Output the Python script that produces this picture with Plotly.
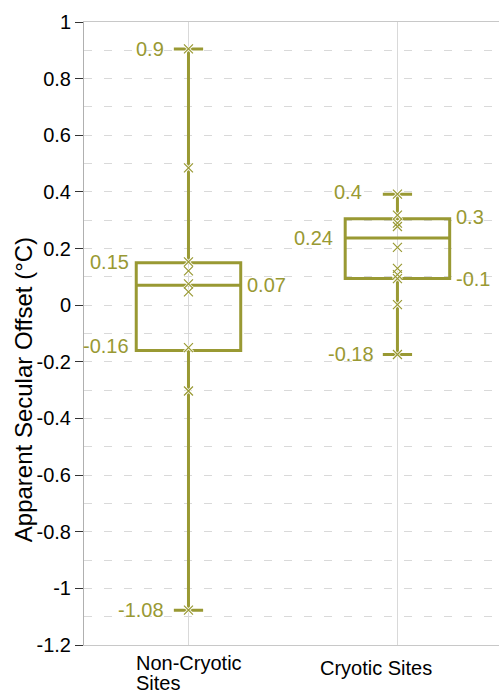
import plotly.graph_objects as go

categories = ["Non-Cryotic Sites", "Cryotic Sites"]
category_lines = [["Non-Cryotic", "Sites"], ["Cryotic Sites"]]
y_title = "Apparent Secular Offset (°C)"

# box statistics
q1 = [-0.16, 0.094]
median = [0.07, 0.237]
q3 = [0.15, 0.305]
lowerfence = [-1.077, -0.174]
upperfence = [0.905, 0.392]

# individual sample markers
noncryo_points = [0.905, 0.485, 0.153, 0.121, 0.075, 0.047, -0.15, -0.303, -1.077]
cryo_points = [0.392, 0.318, 0.29, 0.278, 0.204, 0.13, 0.108, 0.094, 0.002, -0.174]

# value labels
label_y = [0.905, 0.153, 0.073, -0.145, -1.075, 0.4, 0.31, 0.238, 0.094, -0.172]
label_text = ["0.9", "0.15", "0.07", "-0.16", "-1.08", "0.4", "0.3", "0.24", "-0.1", "-0.18"]
label_cat = [0, 0, 0, 0, 0, 1, 1, 1, 1, 1]

ytick_vals = [1, 0.8, 0.6, 0.4, 0.2, 0, -0.2, -0.4, -0.6, -0.8, -1, -1.2]
ytick_text = ["1", "0.8", "0.6", "0.4", "0.2", "0", "-0.2", "-0.4", "-0.6", "-0.8", "-1", "-1.2"]

OLIVE = "#999933"
FONT = "Liberation Sans, Arial, sans-serif"

fig = go.Figure()
fig.add_trace(go.Box(
    x=categories, q1=q1, median=median, q3=q3,
    lowerfence=lowerfence, upperfence=upperfence,
    boxpoints=False, width=0.5, whiskerwidth=0.28,
    line=dict(color=OLIVE, width=3), fillcolor="rgba(0,0,0,0)",
    hoverinfo="skip", showlegend=False,
))
pts_x = [categories[0]] * len(noncryo_points) + [categories[1]] * len(cryo_points)
pts_y = noncryo_points + cryo_points
# white halo then olive thin cross
fig.add_trace(go.Scatter(
    x=pts_x, y=pts_y, mode="markers",
    marker=dict(symbol="x-thin", size=9, line=dict(color="rgba(255,255,255,0.85)", width=3)),
    showlegend=False, hoverinfo="skip",
))
fig.add_trace(go.Scatter(
    x=pts_x, y=pts_y, mode="markers",
    marker=dict(symbol="x-thin", size=9, line=dict(color=OLIVE, width=1.2)),
    showlegend=False, hoverinfo="skip",
))

# offsets in px relative to category centre: (xshift, xanchor)
label_pos = [(-22, "right"), (-57, "right"), (57, "left"), (-57, "right"), (-22, "right"),
             (-33, "right"), (57, "left"), (-62, "right"), (57, "left"), (-21, "right")]
annotations = []
for c, yv, t, (xs, xa) in zip(label_cat, label_y, label_text, label_pos):
    annotations.append(dict(
        x=categories[c], y=yv, xref="x", yref="y", text=t, showarrow=False,
        xanchor=xa, yanchor="middle", xshift=xs,
        font=dict(family=FONT, size=20, color=OLIVE),
    ))

# category labels below axis
annotations.append(dict(x=categories[0], y=0, xref="x", yref="paper", text=category_lines[0][0],
                        showarrow=False, xanchor="left", yanchor="middle", xshift=-54, yshift=-18,
                        font=dict(family=FONT, size=20, color="black")))
annotations.append(dict(x=categories[0], y=0, xref="x", yref="paper", text=category_lines[0][1],
                        showarrow=False, xanchor="left", yanchor="middle", xshift=-54, yshift=-38,
                        font=dict(family=FONT, size=20, color="black")))
annotations.append(dict(x=categories[1], y=0, xref="x", yref="paper", text=category_lines[1][0],
                        showarrow=False, xanchor="left", yanchor="middle", xshift=-79, yshift=-23,
                        font=dict(family=FONT, size=20, color="black")))

# y-axis title (placed below axis centre, as in reference)
annotations.append(dict(x=0, y=0.409, xref="paper", yref="paper", text=y_title,
                        showarrow=False, textangle=-90, xanchor="center", yanchor="middle",
                        xshift=-61, font=dict(family=FONT, size=24, color="black")))

fig.update_layout(
    width=499, height=694,
    margin=dict(l=84, r=0, t=22, b=49),
    paper_bgcolor="white", plot_bgcolor="white",
    font=dict(family=FONT, size=20, color="black"),
    annotations=annotations,
    xaxis=dict(
        type="category", range=[-0.5, 1.486], showticklabels=False,
        showgrid=True, gridcolor="#d9d9d9", gridwidth=1,
        showline=True, linecolor="#c8c8c8", linewidth=1, mirror=True,
        ticks="", zeroline=False, fixedrange=True,
    ),
    yaxis=dict(
        range=[-1.2, 1], tickvals=ytick_vals, ticktext=ytick_text,
        showgrid=True, gridcolor="#d9d9d9", gridwidth=1, griddash="8px,12px",
        minor=dict(dtick=0.1, tick0=0, showgrid=True, gridcolor="#d9d9d9", griddash="8px,12px"),
        showline=True, linecolor="#b0b0b0", linewidth=1,
        ticks="outside", ticklen=8, tickcolor="#333333", tickwidth=1,
        tickfont=dict(family=FONT, size=20, color="black"),
        zeroline=False,
    ),
)

fig.write_html("out.html")
